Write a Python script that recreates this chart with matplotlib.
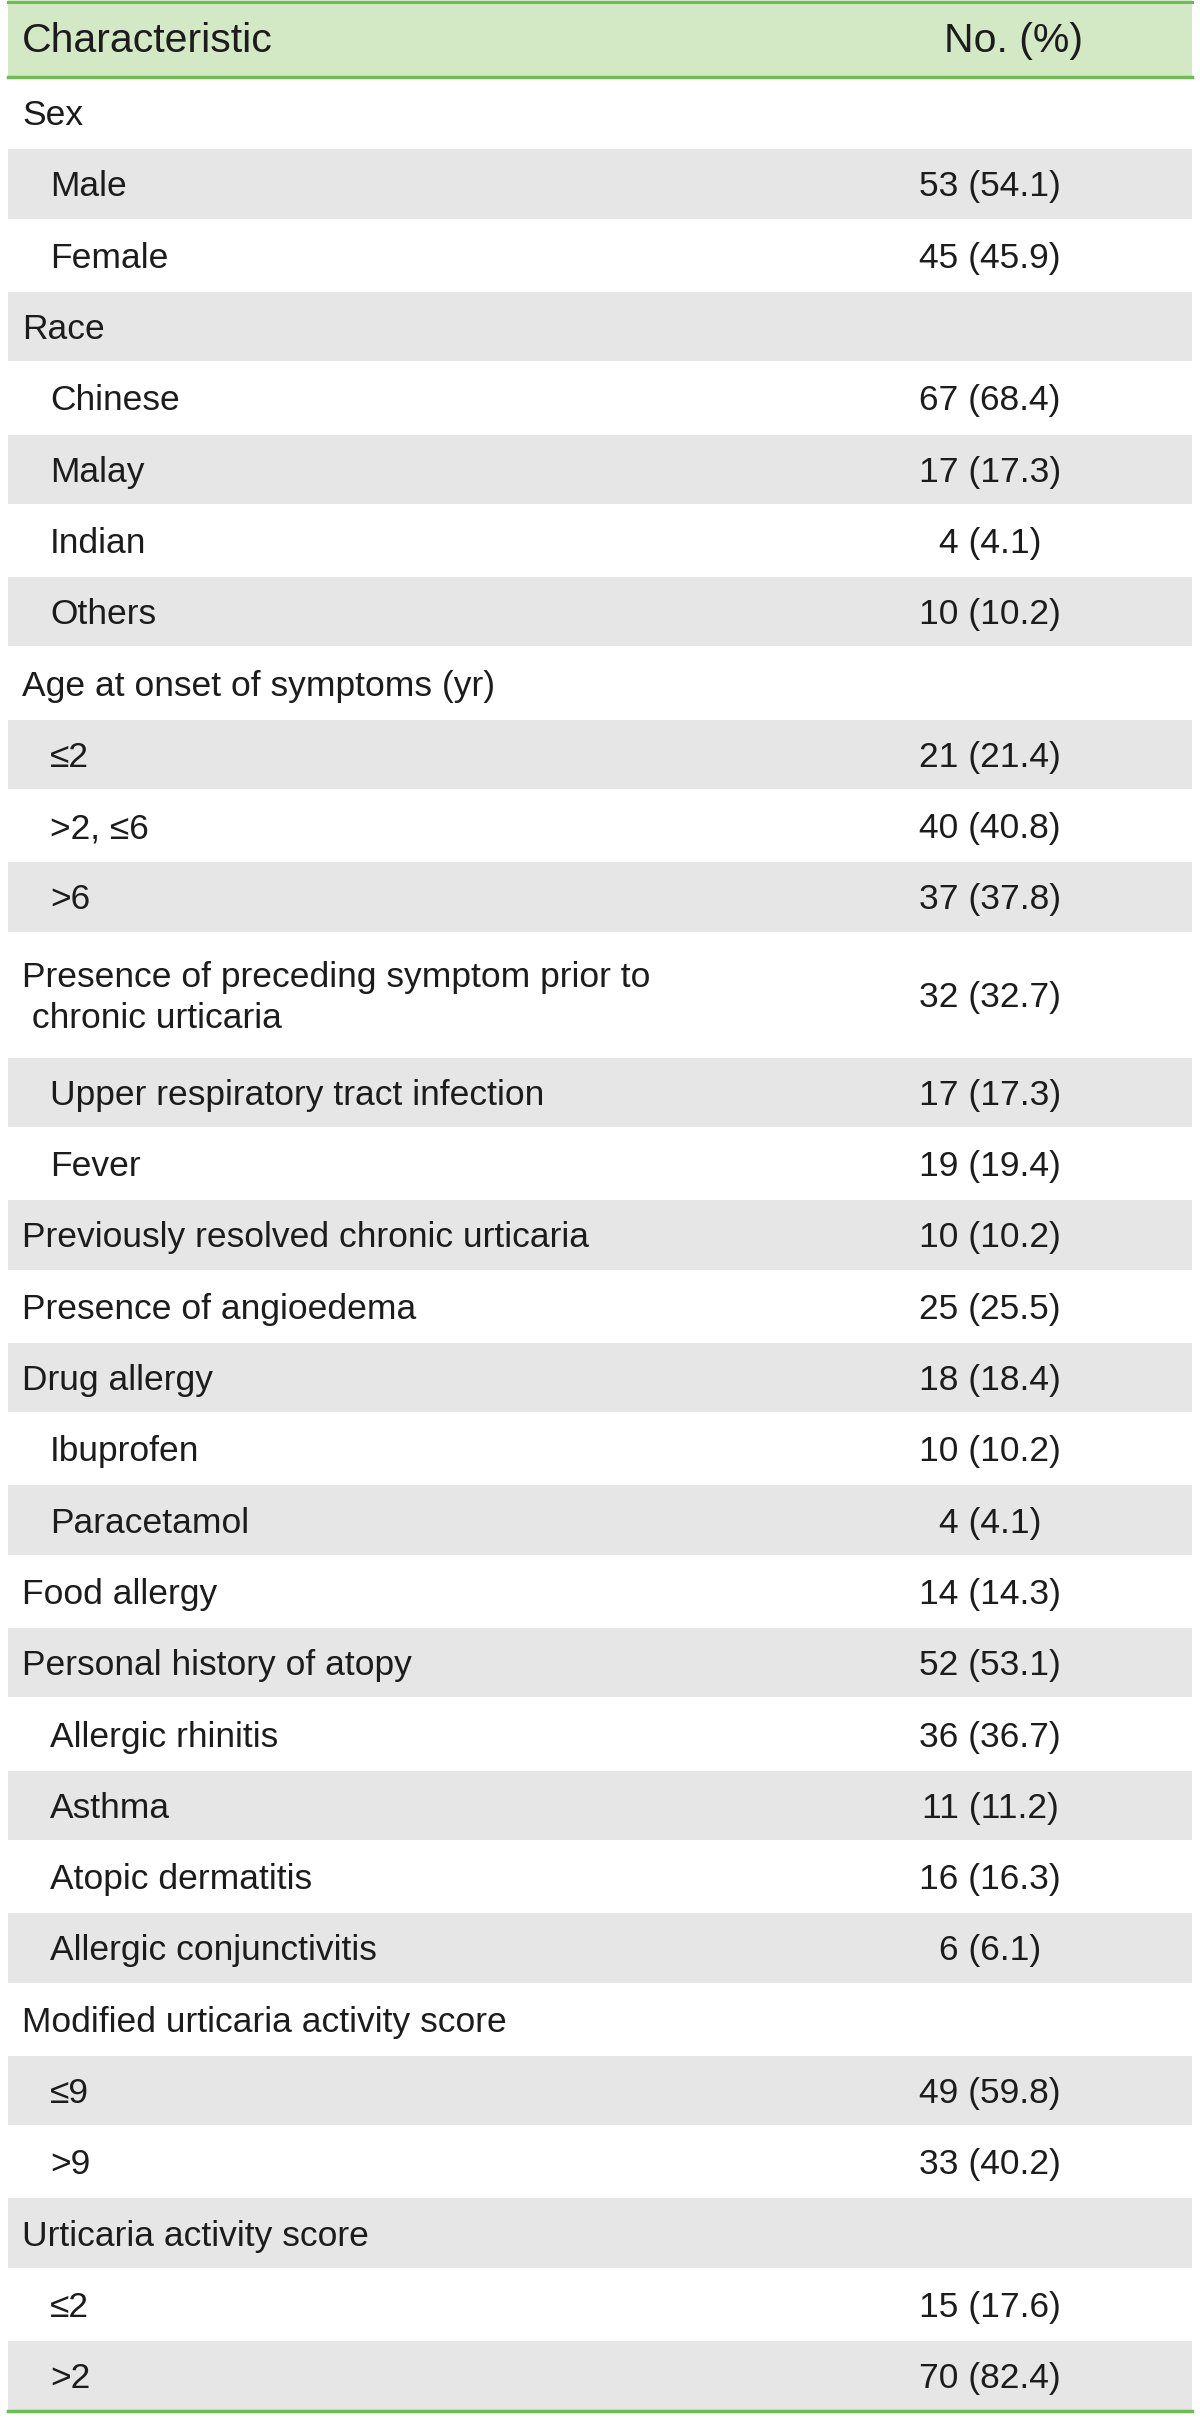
import matplotlib.pyplot as plt
from matplotlib.patches import Rectangle

# table content
labels = ["Sex", "Male", "Female", "Race", "Chinese", "Malay", "Indian", "Others",
          "Age at onset of symptoms (yr)", "\u22642", ">2, \u22646", ">6",
          "Presence of preceding symptom prior to\n chronic urticaria",
          "Upper respiratory tract infection", "Fever",
          "Previously resolved chronic urticaria", "Presence of angioedema",
          "Drug allergy", "Ibuprofen", "Paracetamol", "Food allergy",
          "Personal history of atopy", "Allergic rhinitis", "Asthma",
          "Atopic dermatitis", "Allergic conjunctivitis",
          "Modified urticaria activity score", "\u22649", ">9",
          "Urticaria activity score", "\u22642", ">2"]
values = ["", "53 (54.1)", "45 (45.9)", "", "67 (68.4)", "17 (17.3)", "4 (4.1)", "10 (10.2)",
          "", "21 (21.4)", "40 (40.8)", "37 (37.8)",
          "32 (32.7)",
          "17 (17.3)", "19 (19.4)",
          "10 (10.2)", "25 (25.5)",
          "18 (18.4)", "10 (10.2)", "4 (4.1)", "14 (14.3)",
          "52 (53.1)", "36 (36.7)", "11 (11.2)",
          "16 (16.3)", "6 (6.1)",
          "", "49 (59.8)", "33 (40.2)",
          "", "15 (17.6)", "70 (82.4)"]
indent = [0, 1, 1, 0, 1, 1, 1, 1,
          0, 1, 1, 1,
          0, 1, 1,
          0, 0, 0, 1, 1, 0,
          0, 1, 1, 1, 1,
          0, 1, 1,
          0, 1, 1]
header = ["Characteristic", "No. (%)"]

fam = ["Liberation Sans", "DejaVu Sans"]

W, H = 1200, 2432
fig = plt.figure(figsize=(W / 100, H / 100), dpi=100)
ax = fig.add_axes([0, 0, 1, 1])
ax.set_xlim(0, W)
ax.set_ylim(H, 0)
ax.axis("off")

green = "#6cbd52"
left, right = 8, 1192
head_h = 77
row_h = 71.3
fs = 25.5
tc = "#1c1c1c"
dy = 3  # text sits a bit low in each cell

ax.add_patch(Rectangle((left, 0), right - left, head_h, color="#d3e8c4", lw=0))
ax.plot([left, right], [1.5, 1.5], color=green, lw=2.2)
ax.plot([left, right], [head_h, head_h], color=green, lw=2.5)
ax.text(22, head_h / 2 + dy, header[0], fontsize=29.5, family=fam, va="center", ha="left", color=tc)
ax.text(1014, head_h / 2 + dy, header[1], fontsize=29.5, family=fam, va="center", ha="center", color=tc)

y = head_h
for i, (lab, val, ind) in enumerate(zip(labels, values, indent)):
    h = row_h * (1.74 if "\n" in lab else 1)
    if i % 2 == 1:
        ax.add_patch(Rectangle((left, y + 1), right - left, h - 2, color="#e6e6e6", lw=0))
    x = 50 if ind else 22
    ax.text(x, y + h / 2 + dy, lab, fontsize=fs, family=fam, va="center", ha="left",
            color=tc, linespacing=1.3)
    ax.text(990, y + h / 2 + dy, val, fontsize=fs, family=fam, va="center", ha="center", color=tc)
    y += h

ax.plot([left, right], [y, y], color=green, lw=2.5)

fig.savefig("out.png", dpi=100)
